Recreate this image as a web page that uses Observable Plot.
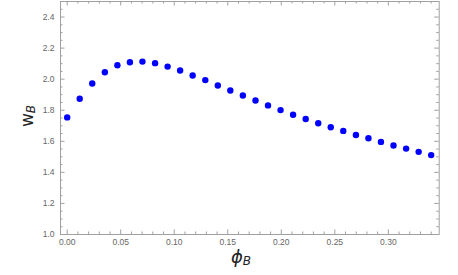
<!DOCTYPE html>
<html><head><meta charset="utf-8">
<script src="https://cdn.jsdelivr.net/npm/d3@7"></script>
<script src="https://cdn.jsdelivr.net/npm/@observablehq/plot@0.6"></script>
<style>body{margin:0;background:#fff}</style>
</head><body><div id="chart"></div>
<script>
const phiB = [0.0000,0.0117,0.0234,0.0352,0.0469,0.0586,0.0703,0.0821,0.0938,0.1055,0.1172,0.1290,0.1407,0.1524,0.1641,0.1759,0.1876,0.1993,0.2110,0.2228,0.2345,0.2462,0.2579,0.2697,0.2814,0.2931,0.3048,0.3166,0.3283,0.3400];
const wB = [1.754,1.874,1.972,2.045,2.090,2.109,2.113,2.103,2.081,2.056,2.024,1.994,1.959,1.927,1.895,1.863,1.831,1.801,1.771,1.744,1.716,1.690,1.667,1.641,1.620,1.596,1.573,1.553,1.532,1.511];
const xMajor = [0,0.05,0.10,0.15,0.20,0.25,0.30];
const xMinor = [0.01,0.02,0.03,0.04,0.06,0.07,0.08,0.09,0.11,0.12,0.13,0.14,0.16,0.17,0.18,0.19,0.21,0.22,0.23,0.24,0.26,0.27,0.28,0.29,0.31,0.32,0.33,0.34];
const yMajor = [1.0,1.2,1.4,1.6,1.8,2.0,2.2,2.4];
const yMinor = [1.05,1.1,1.15,1.25,1.3,1.35,1.45,1.5,1.55,1.65,1.7,1.75,1.85,1.9,1.95,2.05,2.1,2.15,2.25,2.3,2.35,2.45];

const data = phiB.map((x,i)=>({x, y: wB[i]}));
const W = 458, H = 275, mL = 60, mR = 19.3, mT = 1, mB = 41;
const pw = W - mL - mR, ph = H - mT - mB;
const tc = "#a0a0a0";
const maj = 4.5, mnr = 2.5;

const chart = Plot.plot({
  width: W, height: H,
  marginLeft: mL, marginRight: mR, marginTop: mT, marginBottom: mB,
  style: {fontFamily: "'Liberation Sans', Arial, sans-serif", fontSize: "8.5px", color: "#666", background: "#fff"},
  x: {domain: [-0.00625, 0.3475]},
  y: {domain: [1.0, 2.5]},
  marks: [
    Plot.frame({stroke: tc}),
    Plot.tickX(xMajor, {x: d=>d, stroke: tc, insetTop: ph - maj}),
    Plot.tickX(xMinor, {x: d=>d, stroke: tc, insetTop: ph - mnr}),
    Plot.tickX(xMajor, {x: d=>d, stroke: tc, insetBottom: ph - maj}),
    Plot.tickX(xMinor, {x: d=>d, stroke: tc, insetBottom: ph - mnr}),
    Plot.tickY(yMajor, {y: d=>d, stroke: tc, insetRight: pw - maj}),
    Plot.tickY(yMinor, {y: d=>d, stroke: tc, insetRight: pw - mnr}),
    Plot.tickY(yMajor, {y: d=>d, stroke: tc, insetLeft: pw - maj}),
    Plot.tickY(yMinor, {y: d=>d, stroke: tc, insetLeft: pw - mnr}),
    Plot.axisX(xMajor, {tickSize: 0, tickPadding: 4, tickFormat: d3.format(".2f"), label: null}),
    Plot.axisY(yMajor, {tickSize: 0, tickPadding: 6, tickFormat: d3.format(".1f"), label: null}),
    Plot.dot(data, {x: "x", y: "y", r: 3.2, fill: "#0000ff", stroke: "none"})
  ]
});
document.getElementById("chart").appendChild(chart);

const svg = d3.select(chart);
const yl = svg.append("text")
  .attr("transform", `translate(${33},${116}) rotate(-90)`)
  .attr("text-anchor", "middle")
  .attr("font-family", "'DejaVu Sans', sans-serif").attr("fill", "#222");
yl.append("tspan").attr("font-size", 17).text("w");
yl.append("tspan").attr("font-size", 12).attr("font-style", "italic").attr("dy", 2).text("B");

const xl = svg.append("text")
  .attr("x", 241).attr("y", 263)
  .attr("text-anchor", "middle")
  .attr("font-family", "'DejaVu Sans', sans-serif").attr("fill", "#222")
  .attr("font-style", "italic");
xl.append("tspan").attr("font-size", 18).text("ϕ");
xl.append("tspan").attr("font-size", 12).attr("dy", 2).text("B");
</script>
</body></html>
